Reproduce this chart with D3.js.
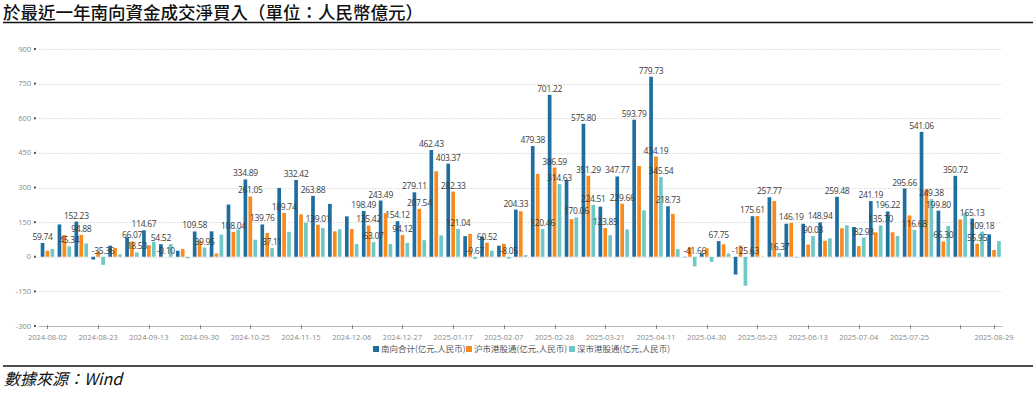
<!DOCTYPE html>
<html>
<head>
<meta charset="utf-8">
<script src="https://cdn.jsdelivr.net/npm/d3@7"></script>
<style>
  body { margin: 0; background: #fff; }
  svg { display: block; }
</style>
</head>
<body>
<svg width="1036" height="395"></svg>
<script>
var dates = ["2024-08-02","2024-08-09","2024-08-16","2024-08-23","2024-08-30","2024-09-06","2024-09-13","2024-09-20","2024-09-27","2024-09-30",
  "2024-10-11","2024-10-18","2024-10-25","2024-11-01","2024-11-08","2024-11-15","2024-11-22","2024-11-29","2024-12-06","2024-12-13",
  "2024-12-20","2024-12-27","2025-01-03","2025-01-10","2025-01-17","2025-01-24","2025-01-27","2025-02-07","2025-02-14","2025-02-21",
  "2025-02-28","2025-03-07","2025-03-14","2025-03-21","2025-03-28","2025-04-03","2025-04-11","2025-04-17","2025-04-25","2025-04-30",
  "2025-05-09","2025-05-16","2025-05-23","2025-05-30","2025-06-06","2025-06-13","2025-06-20","2025-06-27","2025-07-04","2025-07-11",
  "2025-07-18","2025-07-25","2025-08-01","2025-08-08","2025-08-15","2025-08-22","2025-08-29"];

// 南向合计
var southTotal = [59.74,140,152.23,-12,48,84.60,114.67,54.52,26,109.58,
  110,226,334.89,139.76,298,332.42,263.88,229,175,198.49,
  243.49,154.12,279.11,462.43,403.37,89.5,87,48,204.33,479.38,
  701.22,333,575.80,217,347.77,593.79,779.73,218.73,-1.66,15,
  67.75,-77,175.61,257.77,143,143,148.94,259.48,129,241.19,
  196.22,295.66,541.06,199.80,350.72,165.13,97];
// 沪市港股通
var shConnect = [26,94,94.88,23,38,66.07,50,-0.10,33,69.63,
  14,108.04,261.05,102.65,189.74,184,139.01,110,120,135.42,
  188.5,94.12,207.54,370,282.33,99.2,60.52,56,197,358.92,
  386.59,163,351.29,123.85,229.66,393,434.19,186,40,37,
  54,48.6,176.5,241.4,146.19,53,68.9,123.5,46,105.49,
  106,178.98,291.68,66.30,161.5,55.95,29];
// 深市港股通
var szConnect = [34,45.34,57.35,-35.36,10,18.53,65,54.52,-7,39.95,
  96,118,73.84,37.11,108,148,124.87,119,55,63.07,
  55,60,71.57,92.4,121.04,-9.67,26.5,-8.05,7,120.46,
  314.63,170.06,224.51,93,118.11,200.79,345.54,32.73,-41.66,-22,
  13.75,-125.63,-0.9,16.37,-3,90.03,80,136,82.93,135.70,
  90.22,116.68,249.38,133.50,189.22,109.18,68];

// which points carry a value label
var southLabels = [0,2,6,7,9,12,13,15,16,19,20,21,22,23,24,28,29,30,32,34,35,36,37,40,42,43,46,47,49,50,51,52,53,54,55];
var shLabels = [2,5,7,11,12,14,16,19,21,22,24,26,30,32,33,34,36,44,53,55];
var szLabels = [1,3,5,9,13,19,24,25,27,29,30,31,32,36,38,41,43,45,48,49,51,52,55];

var seriesNames = ["南向合计(亿元,人民币)","沪市港股通(亿元,人民币)","深市港股通(亿元,人民币)"];
var colors = ["#1f6ea0","#fa8a1c","#6fc8c6"];
var yTicks = [-300,-150,0,150,300,450,600,750,900];

var series = [
  {name: seriesNames[0], values: southTotal, labels: southLabels},
  {name: seriesNames[1], values: shConnect, labels: shLabels},
  {name: seriesNames[2], values: szConnect, labels: szLabels}
];

var svg = d3.select("svg");

svg.append("rect").attr("width", 1036).attr("height", 395).attr("fill", "#fff");

// title + rule
svg.append("text")
    .attr("x", 3).attr("y", 18.5)
    .attr("font-family", "'Noto Sans CJK TC', 'Noto Sans CJK SC', sans-serif")
    .attr("font-size", 17.5)
    .attr("font-weight", 500)
    .attr("fill", "#111")
    .text("於最近一年南向資金成交淨買入（單位：人民幣億元）");
svg.append("line")
    .attr("x1", 3).attr("x2", 1033).attr("y1", 22.5).attr("y2", 22.5)
    .attr("stroke", "#111").attr("stroke-width", 1.6);

var x = d3.scaleBand()
    .domain(dates)
    .range([39, 1002.5]);

var x1 = d3.scaleBand()
    .domain([0, 1, 2])
    .range([1.7, x.bandwidth() - 1.7])
    .paddingInner(0.25);

var y = d3.scaleLinear()
    .domain([-300, 900])
    .range([326, 49]);

var g = svg.append("g");

// grid
g.selectAll(".grid")
  .data(yTicks.filter(function(d) { return d !== -300; }))
  .enter().append("line")
    .attr("class", "grid")
    .attr("x1", 39).attr("x2", 1002.5)
    .attr("y1", function(d) { return Math.round(y(d)) + 0.5; })
    .attr("y2", function(d) { return Math.round(y(d)) + 0.5; })
    .attr("stroke", "#d9d9d9")
    .attr("stroke-dasharray", "1.5,1.5");

// y axis labels and small square tick marks
g.selectAll(".ylab")
  .data(yTicks)
  .enter().append("text")
    .attr("class", "ylab")
    .attr("x", 31)
    .attr("y", function(d) { return y(d) + 2.5; })
    .attr("text-anchor", "end")
    .attr("font-family", "'Open Sans', sans-serif")
    .attr("font-size", 7.5)
    .attr("fill", "#8a8a8a")
    .text(function(d) { return d; });
g.selectAll(".ymark")
  .data(yTicks)
  .enter().append("rect")
    .attr("class", "ymark")
    .attr("x", 34).attr("width", 2)
    .attr("y", function(d) { return y(d) - 1; })
    .attr("height", 2)
    .attr("fill", "#555");

// bars
series.forEach(function(s, si) {
  g.append("g")
      .attr("fill", colors[si])
    .selectAll("rect")
    .data(s.values)
    .enter().append("rect")
      .attr("x", function(d, i) { return x(dates[i]) + x1(si); })
      .attr("width", x1.bandwidth())
      .attr("y", function(d) { return y(Math.max(0, d)); })
      .attr("height", function(d) { return Math.abs(y(d) - y(0)); });
});

// x axis
var tickIdx = d3.range(0, dates.length, 3).concat([dates.length - 1]);
g.append("line")
    .attr("x1", 39).attr("x2", 1002.5)
    .attr("y1", y(-300) + 0.5).attr("y2", y(-300) + 0.5)
    .attr("stroke", "#b5b5b5");
g.selectAll(".xtick")
  .data(tickIdx)
  .enter().append("line")
    .attr("class", "xtick")
    .attr("x1", function(i) { return Math.round(x(dates[i]) + x.bandwidth() / 2) + 0.5; })
    .attr("x2", function(i) { return Math.round(x(dates[i]) + x.bandwidth() / 2) + 0.5; })
    .attr("y1", y(-300) - 1).attr("y2", y(-300) + 3)
    .attr("stroke", "#888");
g.selectAll(".xlab")
  .data(tickIdx.filter(function(i) { return i !== dates.length - 3; }))
  .enter().append("text")
    .attr("class", "xlab")
    .attr("x", function(i) { return x(dates[i]) + x.bandwidth() / 2; })
    .attr("y", 339.5)
    .attr("text-anchor", "middle")
    .attr("font-family", "'Open Sans', sans-serif")
    .attr("font-size", 7.5)
    .attr("fill", "#8a8a8a")
    .text(function(i) { return dates[i]; });

// value labels
series.forEach(function(s, si) {
  g.append("g")
    .selectAll("text")
    .data(s.labels)
    .enter().append("text")
      .attr("x", function(i) { return x(dates[i]) + x1(si) + x1.bandwidth() / 2; })
      .attr("y", function(i) { return y(Math.max(0, s.values[i])) - 3; })
      .attr("text-anchor", "middle")
      .attr("font-family", "'Open Sans', sans-serif")
      .attr("font-size", 8.5)
      .attr("letter-spacing", -0.3)
      .attr("fill", "#3c3c3c")
      .text(function(i) { return s.values[i].toFixed(2); });
});

// legend
var legendX = [373, 466, 569];
var legend = svg.append("g")
  .selectAll("g")
  .data(seriesNames)
  .enter().append("g")
    .attr("transform", function(d, i) { return "translate(" + legendX[i] + ",349)"; });
legend.append("rect")
    .attr("x", 0).attr("y", -3).attr("width", 6).attr("height", 6)
    .attr("fill", function(d, i) { return colors[i]; });
legend.append("text")
    .attr("x", 8).attr("y", 3.2)
    .attr("font-family", "'Noto Sans CJK SC', sans-serif")
    .attr("font-size", 8.5)
    .attr("fill", "#555")
    .text(function(d) { return d; });

// source
svg.append("line")
    .attr("x1", 3).attr("x2", 1033).attr("y1", 366).attr("y2", 366)
    .attr("stroke", "#111").attr("stroke-width", 1.6);
svg.append("text")
    .attr("x", 4).attr("y", 385)
    .attr("font-family", "'Noto Sans CJK TC', sans-serif")
    .attr("font-size", 16)
    .attr("font-style", "italic")
    .attr("fill", "#111")
    .text("數據來源：Wind");
</script>
</body>
</html>
